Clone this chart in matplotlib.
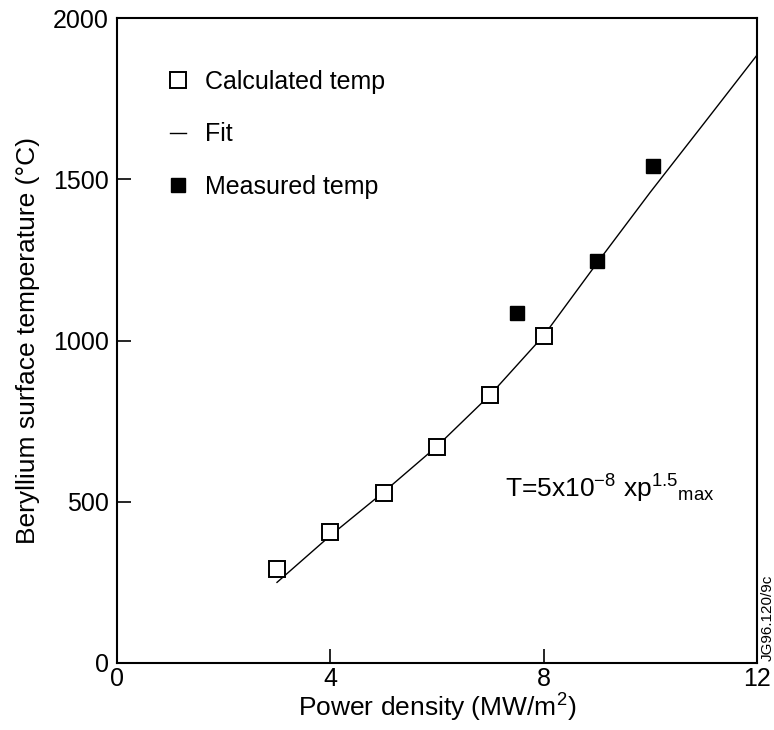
import matplotlib
matplotlib.use("Agg")
import matplotlib.pyplot as plt
from matplotlib.lines import Line2D

plt.rcParams['font.family'] = ['Liberation Sans', 'DejaVu Sans']
plt.rcParams['mathtext.fontset'] = 'custom'
plt.rcParams['mathtext.rm'] = 'Liberation Sans'
plt.rcParams['mathtext.it'] = 'Liberation Sans'
plt.rcParams['mathtext.bf'] = 'Liberation Sans'

# Data
calc_x = [3, 4, 5, 6, 7, 8]
calc_T = [290, 405, 528, 670, 832, 1015]

meas_x = [7.5, 9.0, 10.05]
meas_T = [1085, 1245, 1540]

fit_x = [3, 4, 5, 6, 7, 8, 9, 10, 11, 12]
fit_T = [250, 395, 530, 672, 832, 1015, 1240, 1460, 1672, 1885]

x_ticks = [0, 4, 8, 12]
y_ticks = [0, 500, 1000, 1500, 2000]

fig = plt.figure(figsize=(7.74, 7.30), dpi=100)
ax = fig.add_axes([117/774, 67/730, 640/774, 645/730])

ax.plot(fit_x, fit_T, color='black', lw=1.0, zorder=2)
ax.plot(calc_x, calc_T, ls='none', marker='s', ms=11, mfc='white',
        mec='black', mew=1.4, zorder=3)
ax.plot(meas_x, meas_T, ls='none', marker='s', ms=10, mfc='black',
        mec='black', zorder=3)

ax.set_xlim(0, 12)
ax.set_ylim(0, 2000)
ax.set_xticks(x_ticks)
ax.set_yticks(y_ticks)
ax.tick_params(direction='in', length=10, width=1.2, labelsize=18)
ax.tick_params(axis='x', pad=3)
ax.tick_params(axis='y', pad=6)
for s in ax.spines.values():
    s.set_linewidth(1.5)

ax.set_xlabel('Power density (MW/m$^2$)', fontsize=19)
ax.xaxis.set_label_coords(0.5, -0.044)
ax.set_ylabel('Beryllium surface temperature (\u00b0C)', fontsize=19)
ax.yaxis.set_label_coords(-0.12, 0.5)

handles = [
    Line2D([], [], ls='none', marker='s', ms=11, mfc='white', mec='black', mew=1.4),
    Line2D([], [], color='black', lw=1.0),
    Line2D([], [], ls='none', marker='s', ms=10, mfc='black', mec='black'),
]
labels = ['Calculated temp', 'Fit', 'Measured temp']
ax.legend(handles, labels, loc='upper left', bbox_to_anchor=(0.083, 0.92),
          frameon=False, fontsize=18, handlelength=0.65, handletextpad=0.76,
          labelspacing=1.15, borderpad=0, borderaxespad=0)

ax.text(7.28, 540, r'T=5x10$^{-8}$ xp$^{1.5}{}_{\mathrm{max}}$', fontsize=19,
        ha='left', va='center')

fig.text(768/774, (730 - 618)/730, 'JG96.120/9c', rotation=90, fontsize=11,
         ha='center', va='center')

fig.savefig('out.png', dpi=100)
